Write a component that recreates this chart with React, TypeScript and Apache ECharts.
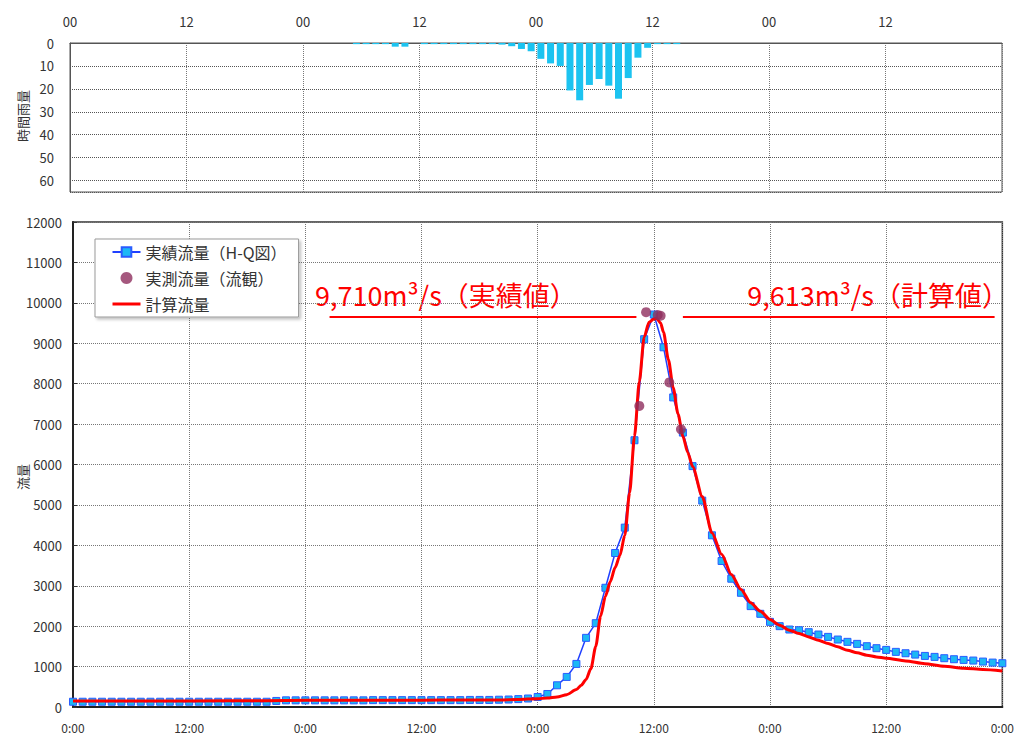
import React, { useEffect, useRef } from "react";
import * as echarts from "echarts";

// ---- Data ----
// Hourly rainfall (mm), hour start index (0 = first 00:00)
const rainHours = [29, 30, 31, 32, 33, 34, 36, 37, 38, 39, 40, 41, 42, 43, 44, 45, 46, 47, 48, 49, 50, 51, 52, 53, 54, 55, 56, 57, 58, 59, 60, 61, 62];
const rainValues = [0.5, 0.5, 0.5, 0.5, 1.6, 1.6, 0.5, 0.5, 0.5, 0.5, 0.5, 0.5, 0.5, 0.5, 0.7, 1.4, 2.6, 3.6, 6.9, 8.9, 10, 20.7, 25, 18.3, 15.7, 18.6, 24.3, 15.3, 6.4, 2.1, 0.5, 0.5, 0.5];

// Recorded flow (H-Q), hourly from hour 0 to hour 96
const recordedFlow = [
  130, 130, 130, 130, 130, 130, 130, 130, 130, 130, 130, 130, 130, 130, 130, 130, 130, 130, 130, 130, 130,
  150, 165, 165, 165, 165, 165, 165, 165, 165, 165,
  170, 170, 170, 170, 170, 170, 170, 170, 170, 170,
  175, 175, 175, 180, 185, 195, 210,
  248, 322, 537, 744, 1066, 1711, 2074, 2950, 3810, 4438,
  6600, 9100, 9710, 8900, 7660, 6790, 5960, 5107, 4248, 3612,
  3174, 2826, 2496, 2306, 2107, 2000, 1917, 1900, 1851, 1793,
  1735, 1669, 1612, 1562, 1504, 1455, 1413, 1364, 1330, 1297,
  1264, 1240, 1207, 1182, 1165, 1149, 1124, 1099, 1083,
];

// Observed flow (流観)
const observedHours = [58.5, 59.2, 60.4, 60.7, 61.6, 62.8];
const observedFlow = [7450, 9770, 9700, 9680, 8030, 6870];

// Calculated flow
const calcHours = [0, 12, 20, 24, 30, 36, 40, 44, 46, 48, 49, 50, 51, 52, 52.5, 53, 53.5, 54, 54.5, 55, 55.5, 56, 56.5, 57, 57.5, 58, 58.5, 59, 59.5, 60, 60.3, 60.7, 61, 61.5, 62, 62.5, 63, 63.5, 64, 65, 66, 67, 68, 69, 70, 71, 72, 73, 74, 75, 76, 77, 78, 79, 80, 81, 82, 83, 84, 86, 88, 90, 92, 94, 96];
const calcFlow = [150, 150, 155, 165, 168, 170, 172, 175, 185, 205, 222, 248, 306, 430, 540, 680, 950, 1500, 2250, 2740, 3100, 3450, 3750, 4250, 5300, 6700, 8050, 9150, 9520, 9600, 9613, 9500, 9270, 8600, 7900, 7250, 6700, 6300, 5950, 5210, 4310, 3780, 3280, 2910, 2580, 2370, 2165, 2025, 1900, 1818, 1735, 1653, 1570, 1488, 1405, 1340, 1281, 1240, 1207, 1140, 1070, 1010, 960, 930, 893];

// Peak annotation lines (hour spans at a flow level)
const peakLineSpans = [[26.5, 58.2], [63.0, 95.2]];
const peakLineLevel = 9650;
const recordedPeakText = "9,710m³/s（実績値）";
const calcPeakText = "9,613m³/s（計算値）";

const seriesNames = ["実績流量（H-Q図）", "実測流量（流観）", "計算流量"];
const rainAxisName = "時間雨量";
const flowAxisName = "流量";

const FONT = '"Noto Sans CJK JP", "Noto Sans", sans-serif';

export default function App() {
  const ref = useRef<HTMLDivElement>(null);

  useEffect(() => {
    if (!ref.current) return;
    const chart = echarts.init(ref.current, undefined, { renderer: "svg" });

    const dotted = { type: "dotted" as const, color: "#777", width: 1 };

    const option: any = {
      animation: false,
      backgroundColor: "#ffffff",
      textStyle: { fontFamily: FONT },
      grid: [
        { left: 70, top: 43, width: 932, height: 149, show: true, borderColor: "#555", borderWidth: 1, backgroundColor: "transparent" },
        { left: 73, top: 222, width: 930, height: 485, show: true, borderColor: "#333", borderWidth: 1.5, backgroundColor: "transparent" },
      ],
      xAxis: [
        {
          type: "value", gridIndex: 0, min: 0, max: 96, interval: 12, position: "top",
          axisLine: { show: true, lineStyle: { color: "#555" } },
          axisTick: { show: false },
          axisLabel: {
            margin: 15, fontSize: 13, color: "#333", fontFamily: FONT,
            formatter: (v: number) => (v >= 96 ? "" : v % 24 === 0 ? "00" : "12"),
          },
          splitLine: { show: true, lineStyle: dotted },
        },
        {
          type: "value", gridIndex: 1, min: 0, max: 96, interval: 12, position: "bottom",
          axisLine: { show: true, lineStyle: { color: "#222", width: 2 } },
          axisTick: { show: false },
          axisLabel: {
            margin: 14, fontSize: 12, color: "#333", fontFamily: FONT,
            formatter: (v: number) => (v % 24 === 0 ? "0:00" : "12:00"),
          },
          splitLine: { show: true, lineStyle: dotted },
        },
      ],
      yAxis: [
        {
          type: "value", gridIndex: 0, inverse: true, min: 0, max: 65, interval: 10,
          axisLine: { show: true, lineStyle: { color: "#555" } },
          axisTick: { show: false },
          axisLabel: {
            margin: 16, fontSize: 13, color: "#333", fontFamily: FONT,
            formatter: (v: number) => (v > 60 ? "" : String(v)),
          },
          splitLine: { show: true, lineStyle: { type: "dotted", color: "#555", width: 1 } },
        },
        {
          type: "value", gridIndex: 1, min: 0, max: 12000, interval: 1000,
          axisLine: { show: true, lineStyle: { color: "#222", width: 2 } },
          axisTick: { show: true, inside: true, length: 4, lineStyle: { color: "#333" } },
          axisLabel: { margin: 11, fontSize: 13, color: "#333", fontFamily: FONT, formatter: (v: number) => String(v) },
          splitLine: { show: true, lineStyle: dotted },
        },
      ],
      legend: {
        show: true,
        orient: "vertical",
        left: 95,
        top: 239,
        data: [
          { name: seriesNames[0] },
          { name: seriesNames[1] },
          { name: seriesNames[2], itemStyle: { opacity: 0 }, lineStyle: { width: 3, color: "#ff0000" } },
        ],
        backgroundColor: "#ffffff",
        borderColor: "#999",
        borderWidth: 1,
        shadowColor: "rgba(0,0,0,0.25)",
        shadowBlur: 3,
        shadowOffsetX: 2,
        shadowOffsetY: 2,
        padding: [5, 12, 5, 16],
        itemGap: 10,
        itemWidth: 28,
        itemHeight: 12,
        textStyle: { fontSize: 16, color: "#333", fontFamily: FONT },
      },
      series: [
        {
          type: "bar",
          name: "rain",
          xAxisIndex: 0,
          yAxisIndex: 0,
          barWidth: 7,
          itemStyle: { color: "#1cc3f0" },
          data: rainHours.map((h, i) => [h + 0.5, rainValues[i]]),
        },
        {
          type: "line",
          name: seriesNames[0],
          xAxisIndex: 1,
          yAxisIndex: 1,
          z: 2,
          symbol: "rect",
          symbolSize: 7,
          lineStyle: { color: "#2040ff", width: 1.5 },
          itemStyle: { color: "#1cb8f5", borderColor: "#2a5cff", borderWidth: 1 },
          data: recordedFlow.map((v, i) => [i, v]),
        },
        {
          type: "scatter",
          name: seriesNames[1],
          xAxisIndex: 1,
          yAxisIndex: 1,
          z: 4,
          symbol: "circle",
          symbolSize: 10,
          itemStyle: { color: "#8e2e5e" },
          data: observedHours.map((h, i) => [h, observedFlow[i]]),
        },
        {
          type: "line",
          name: seriesNames[2],
          xAxisIndex: 1,
          yAxisIndex: 1,
          z: 3,
          symbol: "none",
          showSymbol: false,
          smooth: 0.25,
          smoothMonotone: "x",
          lineStyle: { color: "#ff0000", width: 3 },
          itemStyle: { color: "#ff0000" },
          data: calcHours.map((h, i) => [h, calcFlow[i]]),
          markLine: {
            silent: true,
            symbol: ["none", "none"],
            label: { show: false },
            lineStyle: { color: "#ff0000", width: 2, type: "solid" },
            data: peakLineSpans.map((s) => [
              { coord: [s[0], peakLineLevel] },
              { coord: [s[1], peakLineLevel] },
            ]),
          },
        },
      ],
      graphic: [
        {
          type: "text", x: 22, y: 116, rotation: Math.PI / 2,
          style: { text: rainAxisName, fontSize: 13, fill: "#333", fontFamily: FONT, align: "center", verticalAlign: "middle" },
        },
        {
          type: "text", x: 22, y: 477, rotation: Math.PI / 2,
          style: { text: flowAxisName, fontSize: 13, fill: "#333", fontFamily: FONT, align: "center", verticalAlign: "middle" },
        },
        {
          type: "text", x: 315, y: 294,
          style: { text: recordedPeakText, fontSize: 27, fill: "#ff0000", fontFamily: FONT, align: "left", verticalAlign: "middle" },
        },
        {
          type: "text", x: 1009, y: 294,
          style: { text: calcPeakText, fontSize: 27, fill: "#ff0000", fontFamily: FONT, align: "right", verticalAlign: "middle" },
        },
      ],
    };

    chart.setOption(option);
    return () => chart.dispose();
  }, []);

  return (
    <div
      ref={ref}
      style={{ position: "absolute", left: 0, top: 0, width: 1017, height: 737, background: "#fff" }}
    />
  );
}
